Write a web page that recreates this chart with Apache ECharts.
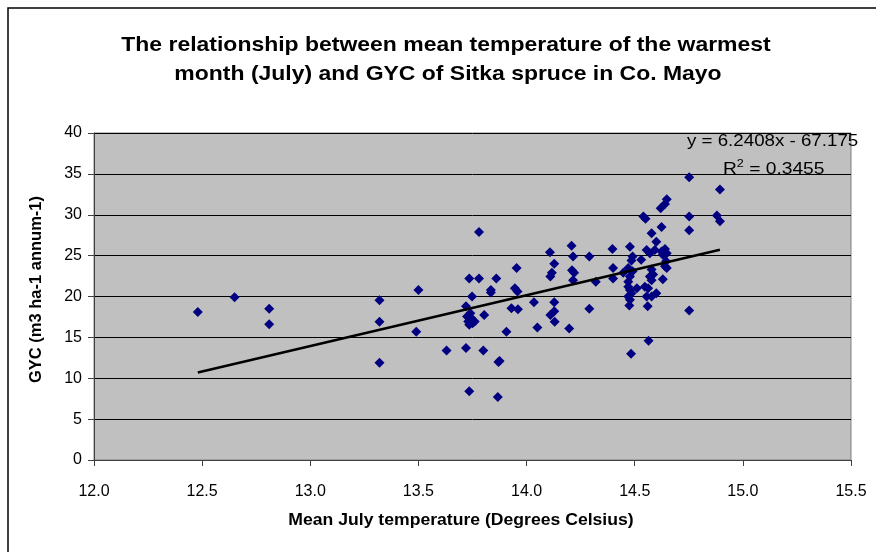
<!DOCTYPE html>
<html>
<head>
<meta charset="utf-8">
<script src="https://cdn.jsdelivr.net/npm/echarts@6/dist/echarts.min.js"></script>
<style>
html,body{margin:0;padding:0;background:#fff;}
#chart{width:876px;height:552px;}
</style>
</head>
<body>
<div id="chart"></div>
<script>
// Mean July temperature (°C) and GYC (m3 ha-1 annum-1)
const temps = [
  12.48, 12.65, 12.81, 12.81, 13.32, 13.32, 13.32, 13.50, 13.49, 13.63,
  13.72, 13.72, 13.735, 13.735, 13.748, 13.78, 13.78,
  13.725, 13.74, 13.745, 13.73, 13.76, 13.735, 13.75,
  13.804, 13.80, 13.86, 13.835, 13.835, 13.87, 13.875, 13.867, 13.907,
  13.954, 13.946, 13.958, 13.93, 13.96,
  14.034, 14.05, 14.108, 14.128, 14.117, 14.11, 14.128, 14.128, 14.11, 14.13,
  14.197, 14.208, 14.215, 14.21, 14.22, 14.215, 14.29, 14.32, 14.29,
  14.397, 14.40, 14.40, 14.447,
  14.478, 14.49, 14.485, 14.47, 14.49, 14.478, 14.47, 14.47, 14.478, 14.485,
  14.47, 14.478, 14.475, 14.483, 14.51, 14.53,
  14.54, 14.55, 14.555, 14.593, 14.57, 14.578, 14.60,
  14.578, 14.57, 14.578, 14.585, 14.562, 14.547, 14.555, 14.60, 14.578, 14.56, 14.564,
  14.648, 14.64, 14.62, 14.624,
  14.624, 14.64, 14.63, 14.648, 14.645, 14.64, 14.648, 14.63,
  14.752, 14.752, 14.752, 14.752, 14.894, 14.88, 14.894
];
const gyc = [
  18.1, 19.9, 18.5, 16.6, 19.55, 16.9, 11.9, 20.8, 15.7, 13.4,
  13.7, 18.8, 22.2, 8.4, 20.0, 22.2, 27.9,
  17.55, 17.96, 17.35, 16.94, 16.94, 16.53, 16.73,
  17.75, 13.4, 22.2, 20.8, 20.5, 12.0, 12.1, 7.7, 15.7,
  23.5, 21.0, 20.6, 18.55, 18.45,
  19.3, 16.2, 25.4, 24.0, 22.9, 22.45, 19.3, 18.2, 17.75, 16.9,
  16.1, 26.2, 24.9, 23.2, 22.9, 22.0, 24.9, 21.8, 18.5,
  25.8, 23.5, 22.2, 22.9,
  26.1, 24.9, 24.4, 23.5, 23.1, 22.45, 21.8, 21.2, 20.8, 20.4,
  20.0, 19.6, 18.9, 13.0, 21.0, 24.5,
  29.8, 29.5, 25.7, 25.7, 25.3, 27.75, 26.7,
  23.3, 22.45, 22.0, 22.7, 21.0, 21.2, 20.0, 20.4, 20.0, 18.8, 14.6,
  31.9, 31.3, 30.8, 28.5,
  25.5, 25.8, 25.1, 25.3, 24.3, 23.7, 23.5, 22.1,
  34.6, 29.8, 28.1, 18.3, 33.1, 29.9, 29.2
];
// Linear trend line end points (y = 6.2408x - 67.175)
const trendX = [12.48, 14.894];
const trendY = [10.71, 25.72];
const xTicks = ['12.0','12.5','13.0','13.5','14.0','14.5','15.0','15.5'];
const yTicks = [0, 5, 10, 15, 20, 25, 30, 35, 40];
const titleLines = ['The relationship between mean temperature of the warmest',
                    'month (July) and GYC of Sitka spruce in Co. Mayo'];
const xTitle = 'Mean July temperature (Degrees Celsius)';
const yTitle = 'GYC (m3 ha-1 annum-1)';

const chart = echarts.init(document.getElementById('chart'), null, {renderer: 'canvas'});
const FONT = '"Liberation Sans", Arial, sans-serif';

function stretchedText(txt, x, y, size, bold, sx, align) {
  return {
    type: 'text', x: x, y: y, scaleX: sx, originX: 0, originY: 0, z: 10,
    style: {text: txt, font: (bold ? 'bold ' : '') + size + 'px ' + FONT,
            fill: '#000', textAlign: align || 'center', textVerticalAlign: 'middle'}
  };
}

const option = {
  animation: false,
  backgroundColor: '#ffffff',
  graphic: [
    {type: 'rect', z: -10, shape: {x: 8, y: 8, width: 900, height: 600},
     style: {fill: 'none', stroke: '#000', lineWidth: 1.5}},
    stretchedText(titleLines[0], 446, 45, 20.5, true, 1.12),
    stretchedText(titleLines[1], 448, 74, 20.5, true, 1.12),
    stretchedText(xTitle, 461, 521, 16, true, 1.1),
    stretchedText('y = 6.2408x - 67.175', 687, 142, 16, false, 1.17, 'left'),
    {type: 'text', x: 723, y: 159, scaleX: 1.2, originX: 0, originY: 0, z: 10,
     style: {text: '{a|R}{s|2}{a| = 0.3455}',
       rich: {a: {fontFamily: FONT, fontSize: 16, color: '#000', verticalAlign: 'bottom'},
              s: {fontFamily: FONT, fontSize: 10.5, color: '#000', verticalAlign: 'top', padding: [0,0,8,0]}}}}
  ],
  grid: {
    left: 94, right: 25, top: 133, bottom: 92,
    show: true, backgroundColor: '#c0c0c0', borderColor: '#808080', borderWidth: 1
  },
  xAxis: {
    type: 'value', min: 12, max: 15.5, interval: 0.5,
    axisLine: {show: true, lineStyle: {color: '#404040', width: 1}},
    axisTick: {show: true, inside: false, length: 6, lineStyle: {color: '#404040'}},
    axisLabel: {fontFamily: FONT, fontSize: 16, color: '#000', margin: 24,
      formatter: (v) => xTicks[Math.round((v - 12) / 0.5)] || ''},
    splitLine: {show: false}
  },
  yAxis: {
    type: 'value', min: 0, max: 40, interval: 5,
    name: yTitle,
    nameLocation: 'middle', nameGap: 49, nameRotate: 90,
    nameTextStyle: {fontFamily: FONT, fontSize: 16.5, fontWeight: 'bold', color: '#000', padding: [0, 0, 0, 14]},
    axisLine: {show: true, lineStyle: {color: '#404040', width: 1}},
    axisTick: {show: true, inside: false, length: 6, lineStyle: {color: '#404040'}},
    axisLabel: {fontFamily: FONT, fontSize: 16, color: '#000', margin: 12,
      formatter: (v) => yTicks.includes(v) ? String(v) : ''},
    splitLine: {show: true, lineStyle: {color: '#000', width: 1}}
  },
  series: [
    {
      type: 'scatter',
      data: temps.map((t, i) => [t, gyc[i]]),
      symbol: 'diamond',
      symbolSize: [10, 10],
      itemStyle: {color: '#000080', opacity: 1},
      z: 3
    },
    {
      type: 'line',
      data: trendX.map((t, i) => [t, trendY[i]]),
      symbol: 'none',
      lineStyle: {color: '#000', width: 2.5},
      z: 4
    }
  ]
};
chart.setOption(option);
</script>
</body>
</html>
